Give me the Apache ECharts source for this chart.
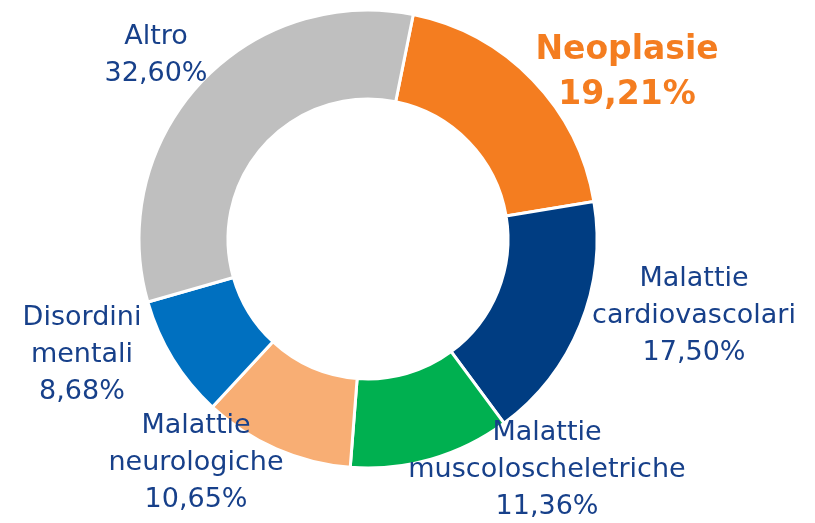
<!DOCTYPE html>
<html>
<head>
<meta charset="utf-8">
<script src="https://cdn.jsdelivr.net/npm/echarts@6/dist/echarts.min.js"></script>
<style>
  html, body { margin: 0; padding: 0; background: #fff; }
  #chart { width: 815px; height: 523px; }
</style>
</head>
<body>
<div id="chart"></div>
<script>
// categorie e percentuali (in senso orario dall'alto)
var categories = ['Neoplasie', 'Malattie\ncardiovascolari', 'Malattie\nmuscoloscheletriche', 'Malattie\nneurologiche', 'Disordini\nmentali', 'Altro'];
var values = [19.21, 17.50, 11.36, 10.65, 8.68, 32.60];
var colors = ['#f47d20', '#003d82', '#00b050', '#f8ae74', '#0070c0', '#bfbfbf'];

// posizione delle etichette (centro del blocco di testo)
var labelPos = [[627, 73], [694, 316], [547, 470], [196, 463], [82, 355], [156, 55]];

var myChart = echarts.init(document.getElementById('chart'));

var seriesData = categories.map(function (name, i) {
	var item = { name: name, value: values[i], itemStyle: { color: colors[i] } };
	if (i === 0) {
		item.label = { color: '#f47d20', fontWeight: 'bold', fontSize: 33, lineHeight: 45 };
	}
	return item;
});

var option = {
	animation: false,
	series: [{
		type: 'pie',
		center: [368, 239],
		radius: [140, 229],
		startAngle: 78.6,
		clockwise: true,
		avoidLabelOverlap: false,
		itemStyle: {
			borderColor: '#fff',
			borderWidth: 3
		},
		label: {
			show: true,
			position: 'outside',
			fontFamily: 'DejaVu Sans',
			fontSize: 27,
			lineHeight: 37,
			color: '#17408a',
			align: 'center',
			formatter: function (p) {
				return p.name + '\n' + p.value.toFixed(2).replace('.', ',') + '%';
			}
		},
		labelLine: { show: false },
		labelLayout: function (params) {
			var pos = labelPos[params.dataIndex];
			return {
				x: pos[0],
				y: pos[1],
				align: 'center',
				verticalAlign: 'middle'
			};
		},
		data: seriesData
	}]
};
myChart.setOption(option);
</script>
</body>
</html>
